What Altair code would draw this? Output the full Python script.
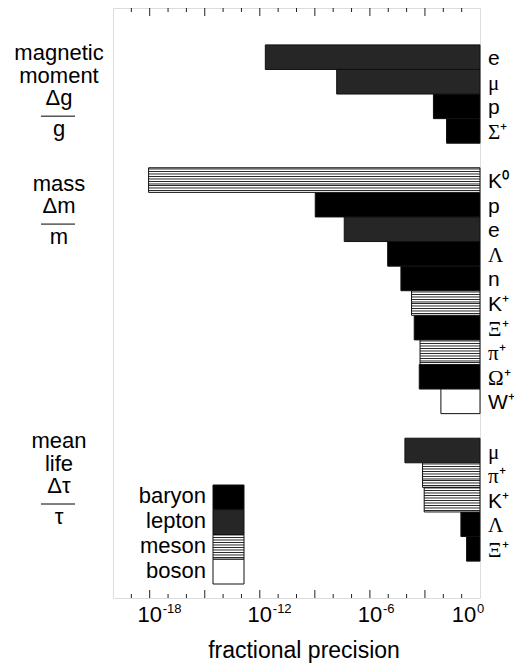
import altair as alt
import pandas as pd

# ----------------------------------------------------------------- data
mm_particles = ["e", "μ", "p", "Σ⁺"]
mm_types = ["lepton", "lepton", "baryon", "baryon"]
mm_precision = [2.0e-12, 1.55e-8, 2.9e-3, 1.5e-2]

mass_particles = ["K⁰", "p", "e", "Λ", "n", "K⁺", "Ξ⁺", "π⁺", "Ω⁺", "W⁺"]
mass_types = ["meson", "baryon", "lepton", "baryon", "baryon",
              "meson", "baryon", "meson", "baryon", "boson"]
mass_precision = [8.7e-19, 1.05e-9, 4.0e-8, 9.3e-6, 4.9e-5,
                  1.86e-4, 2.6e-4, 5.4e-4, 4.9e-4, 7.4e-3]

life_particles = ["μ", "π⁺", "K⁺", "Λ", "Ξ⁺"]
life_types = ["lepton", "meson", "meson", "baryon", "baryon"]
life_precision = [8.1e-5, 7.4e-4, 9.1e-4, 9.1e-2, 1.86e-1]

group_titles = [["magnetic", "moment"], ["mass"], ["mean", "life"]]
group_numerators = ["Δg", "Δm", "Δτ"]
group_denominators = ["g", "m", "τ"]

categories = ["baryon", "lepton", "meson", "boson"]

minor_tick_exponents = list(range(-19, 0))
labelled_exponents = [-18, -12, -6, 0]
x_title = "fractional precision"
x_domain = [1e-20, 1.0]

# ----------------------------------------------------------------- layout
W, H = 367, 590
SANS = "Liberation Sans"
SERIF = "Liberation Serif"
# baseline of each group's first text line, in px relative to its first row's centre
title_offsets_px = [3.0, 10.5, -2.5]
LH, NUM_TO_RULE, RULE_TO_DEN = 22.5, 11.0, 20.0


def stripes(colors, periods):
    k = len(colors) * periods
    stops = []
    for i in range(k):
        c = colors[i % len(colors)]
        stops.append({"offset": i / k, "color": c})
        stops.append({"offset": (i + 1) / k, "color": c})
    return {"gradient": "linear", "x1": 0, "y1": 0, "x2": 0, "y2": 1, "stops": stops}


MESON_FILL = stripes(["#8e8e8e", "#9a9a9a", "#ffffff", "#2a2a2a", "#ffffff"], 5)
fills = {"baryon": "black", "lepton": "#262626", "meson": MESON_FILL, "boson": "white"}

# rows
records, first_rows = [], []
r = 0
for parts, types, vals in [(mm_particles, mm_types, mm_precision),
                           (mass_particles, mass_types, mass_precision),
                           (life_particles, life_types, life_precision)]:
    first_rows.append(r)
    for p, t, v in zip(parts, types, vals):
        records.append({"particle": p, "type": t, "precision": v, "row": r,
                        "top": r - 0.5, "bottom": r + 0.5, "ref": 1.0,
                        "greek": ord(p[0]) > 0x36F})
        r += 1
    r += 1
last_row = r - 2
y_dom = [-2, last_row + 2]
slot_px = H / (y_dom[1] - y_dom[0])

bars_df = pd.DataFrame(records)
xs = alt.Scale(type="log", domain=x_domain, nice=False)
ys = alt.Scale(domain=y_dom, reverse=True, nice=False, zero=False)
X = lambda f: alt.X(f, scale=xs, axis=None)
Y = lambda f: alt.Y(f, scale=ys, axis=None)

layers = []
for t in categories:
    layers.append(
        alt.Chart(bars_df).transform_filter(alt.datum.type == t)
        .mark_rect(fill=fills[t], stroke="#111111", strokeWidth=1)
        .encode(x=X("precision:Q"), x2="ref:Q", y=Y("top:Q"), y2="bottom:Q")
    )

# ticks (inward, on bottom and top)
tick_df = pd.DataFrame({"value": [10.0 ** e for e in minor_tick_exponents],
                        "major": [e % 3 == 0 for e in minor_tick_exponents]})
for major, length in [(True, 8), (False, 4)]:
    d = tick_df[tick_df.major == major]
    c = alt.Chart(d).mark_rule(color="#222222", strokeWidth=1)
    layers.append(c.encode(x=X("value:Q"), y=alt.value(H), y2=alt.value(H - length)))
    layers.append(c.encode(x=X("value:Q"), y=alt.value(0), y2=alt.value(length)))

# tick labels 10^n
lab_df = pd.DataFrame({"value": [10.0 ** e for e in labelled_exponents],
                       "exp": [str(e) for e in labelled_exponents]})
for d, shift in [(lab_df[lab_df.value < 1], 0), (lab_df[lab_df.value >= 1], -16)]:
    c = alt.Chart(d)
    layers.append(c.mark_text(align="center", baseline="alphabetic", fontSize=22, dx=shift,
                              font=SANS, color="black")
                  .encode(x=X("value:Q"), y=alt.value(H + 24), text=alt.value("10")))
    layers.append(c.mark_text(align="left", baseline="alphabetic", fontSize=13, dx=shift + 13,
                              font=SANS, color="black")
                  .encode(x=X("value:Q"), y=alt.value(H + 15), text="exp:N"))

# axis title
layers.append(alt.Chart(pd.DataFrame({"t": [x_title]})).mark_text(
    align="center", baseline="alphabetic", fontSize=23, font=SANS, color="black")
    .encode(x=alt.value(191), y=alt.value(H + 60), text="t:N"))

# particle labels on the right
for greek, font in [(False, SANS), (True, SERIF)]:
    d = bars_df[bars_df.greek == greek]
    layers.append(alt.Chart(d).mark_text(align="left", baseline="alphabetic", fontSize=21,
                                         dy=8, font=font, color="black")
                  .encode(x=alt.value(W + 8), y=Y("row:Q"), text="particle:N"))

# quantity labels on the left (title lines + numerator as one multi-line text)
heads, dens, rules = [], [], []
for r0, off, title, num, den in zip(first_rows, title_offsets_px, group_titles,
                                    group_numerators, group_denominators):
    words = title + [num]
    heads.append({"t": "\n".join(words), "y": r0 + off / slot_px})
    rule_px = off + (len(words) - 1) * LH + NUM_TO_RULE
    rules.append({"y": r0 + rule_px / slot_px})
    dens.append({"t": den, "y": r0 + (rule_px + RULE_TO_DEN) / slot_px})
layers.append(alt.Chart(pd.DataFrame(heads)).mark_text(
    align="center", baseline="alphabetic", fontSize=22, font=SANS, color="black",
    lineBreak="\n", lineHeight=LH)
    .encode(x=alt.value(-54), y=Y("y:Q"), text="t:N"))
layers.append(alt.Chart(pd.DataFrame(dens)).mark_text(
    align="center", baseline="alphabetic", fontSize=22, font=SANS, color="black")
    .encode(x=alt.value(-54), y=Y("y:Q"), text="t:N"))
layers.append(alt.Chart(pd.DataFrame(rules)).mark_rule(color="black", strokeWidth=1)
              .encode(x=alt.value(-72), x2=alt.value(-38), y=Y("y:Q")))

# legend
leg_df = pd.DataFrame({"cat": categories})
leg_scale = alt.Scale(domain=categories, range=[477, 576], paddingInner=0, paddingOuter=0)
for t in categories:
    layers.append(alt.Chart(leg_df).transform_filter(alt.datum.cat == t)
                  .mark_rect(fill=fills[t], stroke="#111111", strokeWidth=1)
                  .encode(x=alt.value(100), x2=alt.value(131),
                          y=alt.Y("cat:N", scale=leg_scale, axis=None)))
layers.append(alt.Chart(leg_df).mark_text(align="right", baseline="alphabetic", fontSize=22,
                                          dy=6, font=SANS, color="black")
              .encode(x=alt.value(93), y=alt.Y("cat:N", scale=leg_scale, axis=None),
                      text="cat:N"))

chart = (
    alt.layer(*layers)
    .resolve_scale(y="independent")
    .properties(width=W, height=H,
                padding={"left": 105, "top": 0, "right": 34, "bottom": 67},
                autosize=alt.AutoSizeParams(type="none"))
    .configure_view(stroke="#222222", strokeWidth=1.5)
    .configure(font=SANS)
)

chart.save("out.html", embed_options={"renderer": "svg", "actions": False})
